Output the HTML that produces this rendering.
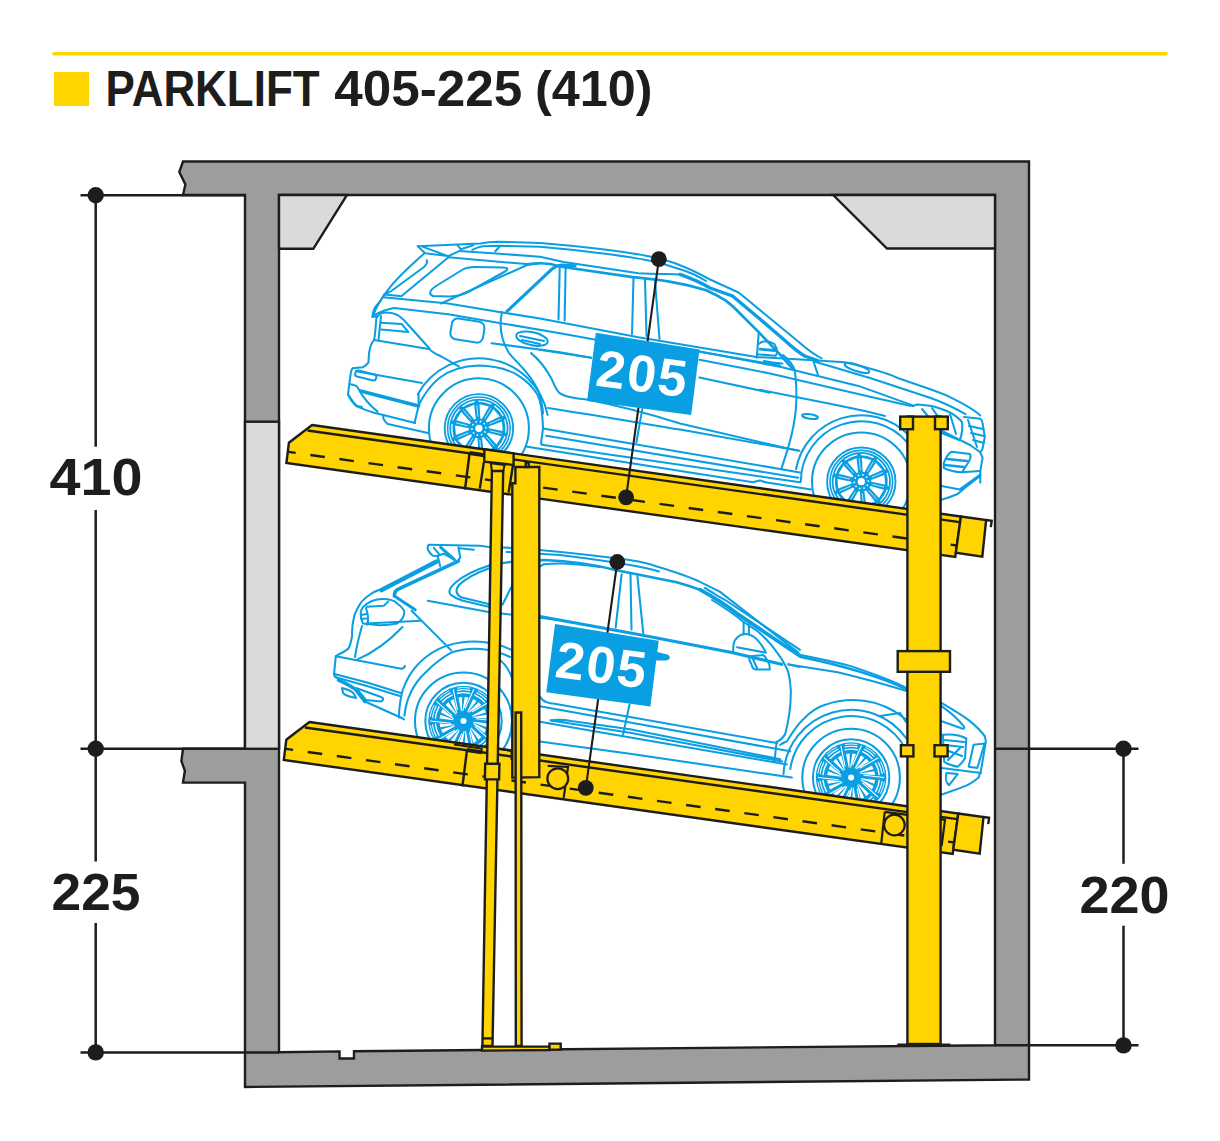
<!DOCTYPE html>
<html><head><meta charset="utf-8">
<style>
html,body{margin:0;padding:0;background:#fff;}
body{width:1220px;height:1141px;overflow:hidden;position:relative;}
svg{position:absolute;left:0;top:0;}
text{font-family:"Liberation Sans",sans-serif;font-weight:bold;}
</style></head><body>
<svg width="1220" height="1141" viewBox="0 0 1220 1141">
<!-- header -->
<line x1="54" y1="53.8" x2="1166" y2="53.8" stroke="#ffd500" stroke-width="3.6" stroke-linecap="round"/>
<rect x="54" y="72" width="35" height="34" fill="#ffd500"/>
<g font-size="49.5" fill="#1d1d1b">
<text x="105.6" y="105.6" textLength="214" lengthAdjust="spacingAndGlyphs">PARKLIFT</text>
<text x="334.2" y="105.6" textLength="188" lengthAdjust="spacingAndGlyphs">405-225</text>
<text x="535" y="105.6" textLength="117.5" lengthAdjust="spacingAndGlyphs">(410)</text>
</g>

<!-- concrete -->
<g stroke="#1d1d1b" stroke-width="2.4" stroke-linejoin="miter">
<!-- top slab + walls -->
<path d="M183,161.5 L1029,161.5 L1029,1079.5 L245,1087 L245,782.6 L183,782.6 L184.9,770.8 L181.4,761 L183,748.8 L245,748.8 L245,195 L183,195 L185.4,184.4 L179.3,172 Z" fill="#9d9d9c"/>
<!-- interior white -->
<path d="M279,195 L995,195 L995,1045.2 L354,1051.2 L354,1058.5 L339.5,1058.5 L339.5,1051.4 L279,1052.3 Z" fill="#fff"/>
<!-- light grey parts -->
<rect x="245" y="421.7" width="34" height="327.1" fill="#dadada"/>
<path d="M279,195 L347,195 L313.3,248.8 L279,248.8 Z" fill="#dadada"/>
<path d="M833.2,195 L995,195 L995,248.5 L887,248.5 Z" fill="#dadada"/>
</g>

<!-- CARS -->
<g id="cars" fill="none" stroke="#0a9fe2" stroke-width="2.05" stroke-linejoin="round" stroke-linecap="round">
<!-- ===== UPPER CAR ===== -->
<g id="car1">
<!-- roof / spoiler -->
<path d="M417.8,246.3 L457.4,244.6 L480.3,243.5 C488,242 493,241.8 497.5,241.8 L540,242.9 C580,246 630,252 650,256.6 C665,260 675,263 680,265.2 C690,269 700,274 709,279 L739,292.8 L800,343 C808,350 815,355 821.6,358.4"/>
<path d="M472.3,249.8 C476,248 479,247 482.6,246.3 C490,245.8 495,245.8 501,245.8 L540,246.8 C590,251 640,258 660,263 C670,266 676,268 680,269.2 C690,272 698,276 706,281"/>
<path d="M417.8,246.3 L425.2,253.2 L448.2,256.1 M423,246.9 L448.2,256.1"/>
<path d="M457.4,245.2 L460.8,249.2 L473.4,245.2"/>
<path d="M495.2,251.5 L499.8,246.3"/>
<path d="M680,274.4 C690,278 700,282 710,288 L732.5,296 L758.7,318 L784.9,340.5 C792,347 798,352 804.6,356 L817.7,360.5" stroke-width="3.4"/>
<!-- window top lines -->
<path d="M448.2,256.1 L459.7,250.9 L540,256.7 L563.6,262 L638.4,273.3 C655,274 668,274 680,274.4 M448.2,257.2 L526.2,264.1 L540,263"/>
<path d="M527.6,264.8 C540,262 550,263 559.7,266.5 L634.4,277.3 C660,280 680,282 706.2,290.2 C715,294 720,297 725.9,300.7 C730,304 735,308 739,312.5 L758.7,332.1 C768,342 778,352 785,360 L792.8,368.9" stroke-width="2.7"/>
<!-- pillars -->
<path d="M507,311.4 L551.6,269.4 C555,266.5 558,265.5 562,265 L575,265.8" stroke-width="3.2"/>
<path d="M559.7,268.4 L558.5,319.6 M565.6,268.4 L564.6,320.6"/>
<path d="M633.5,278 L632,334 M645,279.5 L646.5,336 M655,281 L659.5,339"/>
<path d="M441,303.5 L527.6,264.8"/>
<path d="M448.2,257.5 L401.3,296.3"/>
<!-- quarter glass -->
<path d="M433,296 C428,294 430,290 436,286 L462,270 C466,267.5 470,267 475,267 L503,267.5 C508,267.5 509,269 505,271.5 L470,291 C464,294.5 458,296.3 450,296.5 Z"/>
<!-- hatch -->
<path d="M424.8,253 C410,266 395,280 388,290 C380,300 376,307 373,316"/>
<path d="M426.6,260.2 C428,262 427,264 424,267 L392,290.5 C389,292.5 387,293.5 384,294.5 L400,296"/>
<!-- belt line -->
<path d="M383.3,297.2 L448.2,303.5 L502.3,312.5 L540,318.5 L638.4,337.3 L756.4,357 L813.1,360.3"/>
<path d="M813.1,360.3 L844.6,362.3 C870,368 885,372 897.7,378 C920,386 935,390 946.9,395.7 C960,402 972,408 980.3,415.4"/>
<path d="M814.3,361.6 L870,378 L930,397.7 C945,403 955,408 965.5,414.2"/>
<path d="M813.1,360.3 L818,375"/>
<ellipse cx="857" cy="368" rx="13" ry="3.2" transform="rotate(18 857 368)"/>
<!-- mirror -->
<path d="M758.7,333.4 L756.7,357.7 M758.7,344 C761,342 763,341.3 765.2,341.3 C769,341.3 772,342.5 774.4,344 C776,346.5 777,349 777,351.8 C777,353.5 776.5,354.8 775.7,355.7 L758.7,354.4 M763.9,361 C770,362.5 776,363.2 782.3,363.6"/>
<path d="M760,349.2 L774.4,350.5" stroke-width="2.8"/>
<!-- shoulder / body lines -->
<path d="M372.5,316 C380,312 386,309 394.1,308 L448.2,314.3 L502.3,323.4 L560,333.3 L600,340.5 L697.4,351.1 L780,366.8 L858.4,385.9 L913.5,405.6"/>
<path d="M699.4,351.8 L780,365.6"/>
<path d="M760,389.8 L838.7,405.6 C860,410 875,413 885,416"/>
<path d="M699.4,377.4 L770,392.7"/>
<path d="M374.2,339.9 L428.8,349"/>
<path d="M491.5,343.2 L560,352.2 L591,357.7"/>
<path d="M540,349.8 L591.2,357.7"/>
<path d="M699.4,359.7 L770,373.4 L870,396.8 L911,406"/>
<!-- fuel door -->
<rect x="451" y="320" width="33" height="21" rx="6" transform="rotate(9 467 330)"/>
<!-- tail light -->
<path d="M377.6,316 C380,313.5 383,312.5 385.6,312.5 C391,312.5 396,314 399.2,316 C403,319 406,322 408.3,325 L428.8,347.8 C430,350 431.5,351.5 433.4,352.4 C436,354 438,355 440,355.8"/>
<path d="M381,322.8 L401.5,323.9 L408.3,331.9 L381,329.6"/>
<!-- rear body outline -->
<path d="M381,300 C378,304 375,307 374.2,309.1 C373,312 372.5,315 372.5,317.1 L377.6,316 L376.4,318.2 C375.5,328 375,335 374.2,339.9 C372,342 371,344 370.8,345.6 C369.5,350 369,352 369,354.7 C368.7,358 368.5,360 368.5,362.6 C366,365 364.5,366.5 362.8,367.2 L352.5,368.3 C351.5,370 351,371 350.8,372.9 L349.1,385.4 L348,394.5 C350,399 353,403 356,405.9 C362,409 368,411 374.2,412.8 L383.3,415 L415.2,423"/>
<path d="M381,316 L378.5,340"/>
<rect x="355" y="372.5" width="21.5" height="6" rx="2.5" transform="rotate(14 365.7 375.5)"/>
<path d="M356,371.2 L422,383.1"/>
<path d="M360.5,391.1 L418.6,405.9" stroke-width="3.6"/>
<path d="M350.3,384.3 C354,385 356,385.5 357.1,386.6 C360,392 365,402 377.6,411.6 M348,394.5 C351,399 354,404 357.1,405.9 L362,407"/>
<path d="M418.6,393.4 L418.6,406 L414.5,423"/>
<path d="M383.3,415 L383.3,418.4 C384.5,421 386,423 387.8,424.1 L428,433"/>
<!-- rear door curve -->
<path d="M502,312 C499,325 500,338 508.9,353.1 C515,360 520,365 524.6,370.2 C531,378 536,385 539,392.5 C541,400 543,407 543,413.4"/>
<path d="M531.1,353.1 C542,362 548,372 551.8,379.3 C555,387 557,391 559.7,393.1 C565,397 575,398.5 587.2,399.5 C620,406 650,414 680,423.4 L785.5,448"/>
<path d="M440,355.8 C448,360 453,363 459,366.6"/>
<path d="M548,408 C600,416 640,423 680,429.6 L797.8,450.4"/>
<path d="M543,428.5 L800,472.4 M546.2,435.7 L798.2,477.8 M543,428.5 L541,443 C541.2,444.5 542,445 543.6,444.9 L800,482.3 M525.9,446.6 L690,472.4 L753.1,482.3 C756,481.5 758,480.5 760.3,480.5 C763,481.5 765,482.3 767,482.5 L811,489.5"/>
<path d="M636.4,442.3 L642.3,408.9"/>
<!-- door handle -->
<ellipse cx="532" cy="338.7" rx="16" ry="6.5" transform="rotate(12 532 338.7)"/>
<path d="M520,336 L544,341 M522,340 L540,344"/>
<!-- rear wheel arch & wheel -->
<path d="M417.7,394.4 A70,70 0 0 1 547.6,414.9"/>
<path d="M418.4,405.6 C425,392 432,384 439.3,378 C450,370 465,366 478.7,365.6 C495,366 508,369 518,375.4 C527,381 533,387 537.7,395.1 C541,402 542.5,412 543,428.5"/>
<circle cx="478.9" cy="428.3" r="50"/>
<g transform="translate(478.9,428.3)">
<circle r="34.2" stroke-width="1.9"/>
<circle r="31.3" stroke-width="1.6"/>
<circle r="29.6" fill="#0a9fe2" stroke="none"/>
<path fill="#fff" stroke="none" d="M1.4,-9.9 L0.6,-24.0 L10.0,-21.8 L3.1,-9.5Z M6.9,-7.2 L14.6,-19.0 L20.9,-11.8 L8.1,-5.9Z M9.8,-1.7 L23.0,-6.8 L23.8,2.7 L10.0,0.0Z M9.0,4.4 L22.6,8.0 L17.7,16.2 L8.1,5.9Z M4.7,8.8 L13.6,19.8 L4.8,23.5 L3.1,9.5Z M-1.4,9.9 L-0.6,24.0 L-10.0,21.8 L-3.1,9.5Z M-6.9,7.2 L-14.6,19.0 L-20.9,11.8 L-8.1,5.9Z M-9.8,1.7 L-23.0,6.8 L-23.8,-2.7 L-10.0,0.0Z M-9.0,-4.4 L-22.6,-8.0 L-17.7,-16.2 L-8.1,-5.9Z M-4.7,-8.8 L-13.6,-19.8 L-4.8,-23.5 L-3.1,-9.5Z"/>
<path stroke="#fff" stroke-width="1.3" d="M0.0,-27.2 A27.2,27.2 0 0 1 11.9,-24.4 M16.0,-22.0 A27.2,27.2 0 0 1 24.0,-12.8 M25.9,-8.4 A27.2,27.2 0 0 1 26.9,3.8 M25.9,8.4 A27.2,27.2 0 0 1 19.6,18.9 M16.0,22.0 A27.2,27.2 0 0 1 4.7,26.8 M0.0,27.2 A27.2,27.2 0 0 1 -11.9,24.4 M-16.0,22.0 A27.2,27.2 0 0 1 -24.0,12.8 M-25.9,8.4 A27.2,27.2 0 0 1 -26.9,-3.8 M-25.9,-8.4 A27.2,27.2 0 0 1 -19.6,-18.9 M-16.0,-22.0 A27.2,27.2 0 0 1 -4.7,-26.8"/>
<path stroke="#fff" stroke-width="0.7" d="M-1.0,-12.0 L-2.0,-22.9 M6.2,-10.3 L11.8,-19.7 M11.0,-4.7 L21.2,-9.0 M11.7,2.7 L22.4,5.2 M7.9,9.1 L15.1,17.4 M1.0,12.0 L2.0,22.9 M-6.2,10.3 L-11.8,19.7 M-11.0,4.7 L-21.2,9.0 M-11.7,-2.7 L-22.4,-5.2 M-7.9,-9.1 L-15.1,-17.4"/>
<circle cx="1.6" cy="-6.8" r="0.9" fill="#fff" stroke="none"/><circle cx="5.3" cy="-4.6" r="0.9" fill="#fff" stroke="none"/><circle cx="7.0" cy="-0.6" r="0.9" fill="#fff" stroke="none"/><circle cx="6.0" cy="3.6" r="0.9" fill="#fff" stroke="none"/><circle cx="2.7" cy="6.4" r="0.9" fill="#fff" stroke="none"/><circle cx="-1.6" cy="6.8" r="0.9" fill="#fff" stroke="none"/><circle cx="-5.3" cy="4.6" r="0.9" fill="#fff" stroke="none"/><circle cx="-7.0" cy="0.6" r="0.9" fill="#fff" stroke="none"/><circle cx="-6.0" cy="-3.6" r="0.9" fill="#fff" stroke="none"/><circle cx="-2.7" cy="-6.4" r="0.9" fill="#fff" stroke="none"/>
<circle r="3.6" fill="#fff" stroke="none"/>
</g>
<!-- front door edge -->
<path d="M783.1,355 C789,360 793,365 794.6,369.8 C796,378 796.6,388 796.4,399.5 C796,412 794,425 791.5,434.9 C788,450 784,460 781.6,468.4"/>
<ellipse cx="810" cy="416.5" rx="8" ry="2.2" transform="rotate(8 810 416.5)"/>
<path d="M760,442.8 L799.3,450.7"/>
<!-- front wheel arch & wheel -->
<path d="M796.0,469.0 A66.5,66.5 0 0 1 908.3,434.7"/>
<path d="M800.8,481.7 A60.5,60.5 0 0 1 907.6,442.8"/>
<circle cx="861.3" cy="481.7" r="49.3"/>
<g transform="translate(861.3,481.7)">
<circle r="34.2" stroke-width="1.9"/>
<circle r="31.3" stroke-width="1.6"/>
<circle r="29.6" fill="#0a9fe2" stroke="none"/>
<path fill="#fff" stroke="none" d="M1.4,-9.9 L0.6,-24.0 L10.0,-21.8 L3.1,-9.5Z M6.9,-7.2 L14.6,-19.0 L20.9,-11.8 L8.1,-5.9Z M9.8,-1.7 L23.0,-6.8 L23.8,2.7 L10.0,0.0Z M9.0,4.4 L22.6,8.0 L17.7,16.2 L8.1,5.9Z M4.7,8.8 L13.6,19.8 L4.8,23.5 L3.1,9.5Z M-1.4,9.9 L-0.6,24.0 L-10.0,21.8 L-3.1,9.5Z M-6.9,7.2 L-14.6,19.0 L-20.9,11.8 L-8.1,5.9Z M-9.8,1.7 L-23.0,6.8 L-23.8,-2.7 L-10.0,0.0Z M-9.0,-4.4 L-22.6,-8.0 L-17.7,-16.2 L-8.1,-5.9Z M-4.7,-8.8 L-13.6,-19.8 L-4.8,-23.5 L-3.1,-9.5Z"/>
<path stroke="#fff" stroke-width="1.3" d="M0.0,-27.2 A27.2,27.2 0 0 1 11.9,-24.4 M16.0,-22.0 A27.2,27.2 0 0 1 24.0,-12.8 M25.9,-8.4 A27.2,27.2 0 0 1 26.9,3.8 M25.9,8.4 A27.2,27.2 0 0 1 19.6,18.9 M16.0,22.0 A27.2,27.2 0 0 1 4.7,26.8 M0.0,27.2 A27.2,27.2 0 0 1 -11.9,24.4 M-16.0,22.0 A27.2,27.2 0 0 1 -24.0,12.8 M-25.9,8.4 A27.2,27.2 0 0 1 -26.9,-3.8 M-25.9,-8.4 A27.2,27.2 0 0 1 -19.6,-18.9 M-16.0,-22.0 A27.2,27.2 0 0 1 -4.7,-26.8"/>
<path stroke="#fff" stroke-width="0.7" d="M-1.0,-12.0 L-2.0,-22.9 M6.2,-10.3 L11.8,-19.7 M11.0,-4.7 L21.2,-9.0 M11.7,2.7 L22.4,5.2 M7.9,9.1 L15.1,17.4 M1.0,12.0 L2.0,22.9 M-6.2,10.3 L-11.8,19.7 M-11.0,4.7 L-21.2,9.0 M-11.7,-2.7 L-22.4,-5.2 M-7.9,-9.1 L-15.1,-17.4"/>
<circle cx="1.6" cy="-6.8" r="0.9" fill="#fff" stroke="none"/><circle cx="5.3" cy="-4.6" r="0.9" fill="#fff" stroke="none"/><circle cx="7.0" cy="-0.6" r="0.9" fill="#fff" stroke="none"/><circle cx="6.0" cy="3.6" r="0.9" fill="#fff" stroke="none"/><circle cx="2.7" cy="6.4" r="0.9" fill="#fff" stroke="none"/><circle cx="-1.6" cy="6.8" r="0.9" fill="#fff" stroke="none"/><circle cx="-5.3" cy="4.6" r="0.9" fill="#fff" stroke="none"/><circle cx="-7.0" cy="0.6" r="0.9" fill="#fff" stroke="none"/><circle cx="-6.0" cy="-3.6" r="0.9" fill="#fff" stroke="none"/><circle cx="-2.7" cy="-6.4" r="0.9" fill="#fff" stroke="none"/>
<circle r="3.6" fill="#fff" stroke="none"/>
</g>
<!-- front end -->
<path d="M913,406.2 C915,405 916,404.5 917.6,404.5 C925,405 930,405.5 934.7,406.8 C942,409 948,411 952.9,414.2 C957,417 960,419 962,422.2 C963,428 962,434 959.8,440.4"/>
<path d="M940.4,430.1 C950,435 960,440 970,445 M941.5,433 L959.8,440.4"/>
<path d="M922,409 L936,426 M932,408 L946,428 M950,414 L956,434"/>
<path d="M964,417 L980.3,418.7 C982,420 982.6,421 982.6,423.3 L984.8,437 L982.6,448.4 L980.3,452.9 L982.6,457.5 L980.3,471.2 L980.3,482.6"/>
<path d="M968,420 L977,447 M970,445 L980,452"/>
<path d="M969,426 L983,429 M971,433 L984,436 M973,440 L984,443"/>
<path d="M943.8,463.2 C946,457 949,453 951.8,451.8 L970,454.1 C971,456 970,460 968,463 L962,472.3 C955,472 948,470 943.8,468 Z"/>
<path d="M947,459 L967,461 M945,465 L964,467" stroke-width="2.4"/>
<path d="M941.5,486 L959.8,489.4 L980.3,474.6 M941.5,499.7 C948,498 953,496 957.5,494 C965,488 972,482 980.3,476"/>
<path d="M962,472.3 L980,471"/>
</g>
<!-- ===== LOWER CAR ===== -->
<g id="car2">
<path d="M428.9,544.8 L480,545.8 L487.3,546.7 C520,548 560,551 617.7,558.6 C640,561 650,564 657,566.5 C675,572 690,577 700,581.8 L719.7,591.6 L798.4,652.6"/>
<path d="M459.8,548.2 L473.7,549.8 M506.7,551.9 C530,553 545,554 560,555.1 C600,560 640,566 659,571.4"/>
<path d="M488.6,565.8 C505,562 525,560 545,560 C570,561 600,566 617.7,570.4 L676.7,582.2 C690,586 700,589.7 700,589.7" stroke-width="2.6"/>
<path d="M700,589.7 C715,598 730,608 739.3,615.2 L800,656" stroke-width="3.8"/>
<path d="M705,588 C715,594 722,599 725.2,600 L800,649.8"/>
<path d="M544,564.2 C560,562.5 580,564 600,567"/>
<!-- rear -->
<path d="M428.9,544.8 C427.5,546 427.5,548 427.9,549.8 C429,552 431,554.5 432.8,555.7 L437.7,556.1 L440.3,566.5 M433.8,547.8 L438.7,553.7 M437.7,555.7 L443.6,553.7 L454.4,559.6 M458.4,547.3 L460.3,557.6 L457.4,561.1"/>
<path d="M440.7,547.3 L454.4,559.6" stroke-width="3"/>
<path d="M381.6,590.1 L436.7,561.6" stroke-width="4.5"/>
<path d="M394.4,596 C394,592 396,590 399.3,588.6 L458.4,561.1" stroke-width="3.5"/>
<path d="M384.5,588.2 C378,590 373,592 370.1,594.5 C365,598 361,602 359.3,605.3 C356,611 354,615 353.9,618 C352,625 352,630 352.1,636 C351,642 350,646 348.4,648.6 C344,652 340,654 337.6,655 L335.8,656.2 L334,674.3 C334,676 335,677 337.6,677.9"/>
<path d="M362.9,607.1 C368,602 375,599 382.7,599 C390,599 395,601 397.1,603.5 C402,607 404.4,610 404.4,612.5 C404,617 401,621 397.1,623.4 C390,625 385,625.2 379.1,625.2 L362.9,623.4 C360,617 360,611 362.9,607.1 Z"/>
<path d="M367.1,606.8 L383.9,605.8 L388.1,601.6 M361.5,615 L366,614 M361.5,619 L366,618.5 M366,608 C368,614 369,620 367.1,624.7"/>
<path d="M366.5,623.4 L420.6,620.7"/>
<path d="M394.4,596 L415.2,609.8" stroke-width="3"/>
<path d="M411.6,610.7 L451.2,650.4"/>
<path d="M402.5,627 C390,640 375,652 357.5,659.4"/>
<path d="M362,626 C358,640 356,650 355,657"/>
<path d="M335.8,656.2 L400,668.5 C402,669 404,668 405,666"/>
<path d="M334.5,674.1 L367.1,682.5 L400.7,693 M335.5,677.3 L367,686 L400.7,696.2"/>
<path d="M338.5,680 C345,683 352,686 356,690 C359,694 362,698 365,701.5" stroke-width="3.6"/>
<path d="M342,688 C346,689 352,691 354,694 L356,698 C350,697 345,695 343,693 Z"/>
<path d="M356,688 L381,697 C384,698 384,700 381,701.5 L366,700 Z"/>
<path d="M365,701.5 L400.7,717.5 L404,719.4"/>
<!-- belt & windows -->
<path d="M427.8,600.8 L488.6,612.1 L560,620"/>
<path d="M540,616.5 L640,634.8 L731.8,652.5 L781.6,664.3" stroke-width="3.2"/>
<path d="M788.2,664.3 L800,666.9"/>
<path d="M488.6,565.8 C475,570 462,577 455,583 C449,588 448,593 451.3,595.1 C455,598 458,599 462,600.4 L488.6,606.8"/>
<path d="M488.6,568.5 C476,573 465,579 459,585 C455,590 456,594 460.9,597.2 L488.6,604"/>
<path d="M502.5,604.7 L511,587.6 L530,572 L544,564.2"/>
<path d="M621.6,574.3 L615.7,627.5 M630.5,574.3 L631.5,629.4 M637.4,576.3 L643.3,633.4"/>
<!-- mirror -->
<path d="M733.1,652.5 C733,645 734,641 735.7,639.3 C738,636 741,634.5 744.9,634.1 C749,634 752,635.5 755.4,638 C760,642 763,647 765.9,652.5 M737,647.2 L764.6,652.5"/>
<path d="M748.9,656.4 C749,660 750,662 751.5,664.3 C752,667 753,669 755.4,669.5 L769.8,669.5 C770,666 769,663 767.2,660.3 C766,658 765,656 763.3,655.1 Z M752,657 L757,668"/>
<path d="M743.6,622 L743.6,634.5 M748.9,624 L748.9,634"/>
<path d="M655,652.5 L667,655.5 C670,657 669,659 666,659.5 L657,659.5 Z" fill="#0a9fe2"/>
<!-- front door edge -->
<path d="M712,600 C725,608 735,615 742.3,621 C748,625 753,628 758,631.5 C764,637 768,641 771.1,644.6 C776,651 779,655 781.6,659 C785,665 787,668 788.2,672.1 C790,679 790.5,684 790.8,690 C791,705 789,720 785.1,734.4 C782,739 779,741 776.6,741.9"/>
<path d="M535,690 C537,694 538,695 539.8,696.4 C542,700 544,701.5 546.4,702.1 C549,703 551,703.5 554.6,703.8 L630,716.9 L777,743.1"/>
<path d="M539.8,706.2 L630,722.6 L790.2,751.3"/>
<path d="M550.5,720.2 C560,719.5 566,720 571,721 L630,729.2 L780.3,759.3 M550.5,720.4 L630,732.8 L782,761.5"/>
<path d="M539.8,721.8 L600,732.3 L786.9,764.4 M539.8,741.5 L630,753.8 L791.8,777.5"/>
<path d="M629.5,704.6 L623.1,734.4 M776.6,741.9 L774.4,762.1"/>
<!-- hood & front -->
<path d="M798.4,654.6 L818,658.5 C835,662 850,665 857.4,668.4 C880,676 895,682 906.6,688 C920,694 932,698 940.5,702.3 C952,709 962,715 968.7,720.1 C976,726 981,731 984.7,736.1"/>
<path d="M788.5,664.4 L837.7,672.3 C870,680 890,686 906.6,691"/>
<path d="M801,657 C850,667 880,677 906.6,689" stroke-width="2.8"/>
<path d="M984.7,736.1 L985.9,741 L981,770.4 L978.5,777.8 C972,783 967,786 961.3,787.6 L940.5,795"/>
<path d="M940.5,705.4 C950,712 958,719 963.8,726.3 C965,728 964,729 962,728.5 L941.7,721.3"/>
<path d="M942.9,734.8 C950,734 960,735 966.3,738.5 L965,758.2 C962,763 960,765 957.7,766.7 C952,766 948,764 944.2,761.8 Z"/>
<path d="M945,740 L964,742 M945,745 L963,747 M946,750 L962,756 M948,760 L960,748" stroke-width="2.2"/>
<path d="M973.6,744.7 L984.7,743.4 L977.3,768 L968.7,766.7 Z"/>
<path d="M946.6,772.9 L957.7,774.1 L949.1,785.2 C946,783 945,778 946.6,772.9 Z"/>
<path d="M941.7,768 L981,772.9"/>
<!-- arches -->
<path d="M398.9,717.5 C399,705 401,697 402.5,690.5 C407,678 412,670 418.8,663.4 C428,654 437,649 447.6,645.4 C470,639 492,641 512,650"/>
<path d="M404.4,715.7 C406,700 412,685 426,672 C435,663 443,657 451.2,652.6 C470,646 492,648 510,657"/>
<path d="M500,660 C506,665 510,672 512,678"/>
<circle cx="463.5" cy="721" r="48.5"/>
<g transform="translate(463.5,721)">
<circle r="38.2" stroke-width="2"/>
<circle r="35.3" fill="#0a9fe2" stroke="none"/>
<path fill="#fff" stroke="none" d="M3.7,-9.3 L9.8,-21.9 L13.1,-20.1 L4.5,-8.9Z M4.9,-8.7 L15.1,-18.7 L17.8,-16.1 L5.6,-8.3Z M8.5,-5.3 L20.8,-12.0 L22.4,-8.6 L8.9,-4.6Z M9.1,-4.1 L23.2,-6.2 L23.9,-2.5 L9.4,-3.4Z M10.0,0.7 L23.9,2.5 L23.2,6.2 L9.9,1.5Z M9.8,2.0 L22.4,8.6 L20.8,12.0 L9.6,2.8Z M7.7,6.4 L17.8,16.1 L15.1,18.7 L7.1,7.0Z M6.8,7.4 L13.1,20.1 L9.8,21.9 L6.2,7.9Z M2.4,9.7 L5.0,23.5 L1.3,24.0 L1.7,9.9Z M1.1,9.9 L-1.3,24.0 L-5.0,23.5 L0.3,10.0Z M-3.7,9.3 L-9.8,21.9 L-13.1,20.1 L-4.5,8.9Z M-4.9,8.7 L-15.1,18.7 L-17.8,16.1 L-5.6,8.3Z M-8.5,5.3 L-20.8,12.0 L-22.4,8.6 L-8.9,4.6Z M-9.1,4.1 L-23.2,6.2 L-23.9,2.5 L-9.4,3.4Z M-10.0,-0.7 L-23.9,-2.5 L-23.2,-6.2 L-9.9,-1.5Z M-9.8,-2.0 L-22.4,-8.6 L-20.8,-12.0 L-9.6,-2.8Z M-7.7,-6.4 L-17.8,-16.1 L-15.1,-18.7 L-7.1,-7.0Z M-6.8,-7.4 L-13.1,-20.1 L-9.8,-21.9 L-6.2,-7.9Z M-2.4,-9.7 L-5.0,-23.5 L-1.3,-24.0 L-1.7,-9.9Z M-1.1,-9.9 L1.3,-24.0 L5.0,-23.5 L-0.3,-10.0Z"/>
<path stroke="#fff" stroke-width="1.4" d="M11.5,-25.9 A28.3,28.3 0 0 1 21.0,-18.9"/><path stroke="#fff" stroke-width="1.1" d="M13.2,-28.3 A31.2,31.2 0 0 1 22.8,-21.3"/><path stroke="#fff" stroke-width="0.9" d="M14.7,-30.1 A33.5,33.5 0 0 1 24.1,-23.3"/><path stroke="#fff" stroke-width="1.4" d="M24.5,-14.1 A28.3,28.3 0 0 1 28.1,-3.0"/><path stroke="#fff" stroke-width="1.1" d="M27.3,-15.1 A31.2,31.2 0 0 1 31.0,-3.8"/><path stroke="#fff" stroke-width="0.9" d="M29.6,-15.7 A33.5,33.5 0 0 1 33.2,-4.7"/><path stroke="#fff" stroke-width="1.4" d="M28.1,3.0 A28.3,28.3 0 0 1 24.5,14.1"/><path stroke="#fff" stroke-width="1.1" d="M31.0,3.8 A31.2,31.2 0 0 1 27.3,15.1"/><path stroke="#fff" stroke-width="0.9" d="M33.2,4.7 A33.5,33.5 0 0 1 29.6,15.7"/><path stroke="#fff" stroke-width="1.4" d="M21.0,18.9 A28.3,28.3 0 0 1 11.5,25.9"/><path stroke="#fff" stroke-width="1.1" d="M22.8,21.3 A31.2,31.2 0 0 1 13.2,28.3"/><path stroke="#fff" stroke-width="0.9" d="M24.1,23.3 A33.5,33.5 0 0 1 14.7,30.1"/><path stroke="#fff" stroke-width="1.4" d="M5.9,27.7 A28.3,28.3 0 0 1 -5.9,27.7"/><path stroke="#fff" stroke-width="1.1" d="M6.0,30.6 A31.2,31.2 0 0 1 -6.0,30.6"/><path stroke="#fff" stroke-width="0.9" d="M5.8,33.0 A33.5,33.5 0 0 1 -5.8,33.0"/><path stroke="#fff" stroke-width="1.4" d="M-11.5,25.9 A28.3,28.3 0 0 1 -21.0,18.9"/><path stroke="#fff" stroke-width="1.1" d="M-13.2,28.3 A31.2,31.2 0 0 1 -22.8,21.3"/><path stroke="#fff" stroke-width="0.9" d="M-14.7,30.1 A33.5,33.5 0 0 1 -24.1,23.3"/><path stroke="#fff" stroke-width="1.4" d="M-24.5,14.1 A28.3,28.3 0 0 1 -28.1,3.0"/><path stroke="#fff" stroke-width="1.1" d="M-27.3,15.1 A31.2,31.2 0 0 1 -31.0,3.8"/><path stroke="#fff" stroke-width="0.9" d="M-29.6,15.7 A33.5,33.5 0 0 1 -33.2,4.7"/><path stroke="#fff" stroke-width="1.4" d="M-28.1,-3.0 A28.3,28.3 0 0 1 -24.5,-14.2"/><path stroke="#fff" stroke-width="1.1" d="M-31.0,-3.8 A31.2,31.2 0 0 1 -27.3,-15.1"/><path stroke="#fff" stroke-width="0.9" d="M-33.2,-4.7 A33.5,33.5 0 0 1 -29.6,-15.7"/><path stroke="#fff" stroke-width="1.4" d="M-21.0,-18.9 A28.3,28.3 0 0 1 -11.5,-25.9"/><path stroke="#fff" stroke-width="1.1" d="M-22.8,-21.3 A31.2,31.2 0 0 1 -13.2,-28.3"/><path stroke="#fff" stroke-width="0.9" d="M-24.1,-23.3 A33.5,33.5 0 0 1 -14.7,-30.1"/><path stroke="#fff" stroke-width="1.4" d="M-5.9,-27.7 A28.3,28.3 0 0 1 5.9,-27.7"/><path stroke="#fff" stroke-width="1.1" d="M-6.0,-30.6 A31.2,31.2 0 0 1 6.0,-30.6"/><path stroke="#fff" stroke-width="0.9" d="M-5.8,-33.0 A33.5,33.5 0 0 1 5.8,-33.0"/>
<path stroke="#fff" stroke-width="1.1" d="M1.8,-12.9 L10.2,-31.4 M9.0,-9.4 L26.7,-19.4 M12.8,-2.3 L33.0,0.0 M11.7,5.7 L26.7,19.4 M6.1,11.5 L10.2,31.4 M-1.8,12.9 L-10.2,31.4 M-9.0,9.4 L-26.7,19.4 M-12.8,2.3 L-33.0,0.0 M-11.7,-5.7 L-26.7,-19.4 M-6.1,-11.5 L-10.2,-31.4"/>
<circle r="3" fill="#fff" stroke="none"/>
</g>
<path d="M780,745 C783,743 785,742 786.9,741.3 C792,733 797,725 803,719.5 C811,711 818,707 825.9,704.6 C835,701 845,700 853.4,700 C868,700 882,704 894.8,711.5 L906.2,719.5"/>
<path d="M783.5,774.0 A67.7,67.7 0 0 1 906.6,738.7"/>
<path d="M790.3,769.0 A61.4,61.4 0 0 1 905.8,749.6"/>
<path d="M880,716 L900,713 L906,722"/>
<circle cx="851.1" cy="777.5" r="48.8"/>
<g transform="translate(851.1,777.5)">
<circle r="38.2" stroke-width="2"/>
<circle r="35.3" fill="#0a9fe2" stroke="none"/>
<path fill="#fff" stroke="none" d="M3.7,-9.3 L9.8,-21.9 L13.1,-20.1 L4.5,-8.9Z M4.9,-8.7 L15.1,-18.7 L17.8,-16.1 L5.6,-8.3Z M8.5,-5.3 L20.8,-12.0 L22.4,-8.6 L8.9,-4.6Z M9.1,-4.1 L23.2,-6.2 L23.9,-2.5 L9.4,-3.4Z M10.0,0.7 L23.9,2.5 L23.2,6.2 L9.9,1.5Z M9.8,2.0 L22.4,8.6 L20.8,12.0 L9.6,2.8Z M7.7,6.4 L17.8,16.1 L15.1,18.7 L7.1,7.0Z M6.8,7.4 L13.1,20.1 L9.8,21.9 L6.2,7.9Z M2.4,9.7 L5.0,23.5 L1.3,24.0 L1.7,9.9Z M1.1,9.9 L-1.3,24.0 L-5.0,23.5 L0.3,10.0Z M-3.7,9.3 L-9.8,21.9 L-13.1,20.1 L-4.5,8.9Z M-4.9,8.7 L-15.1,18.7 L-17.8,16.1 L-5.6,8.3Z M-8.5,5.3 L-20.8,12.0 L-22.4,8.6 L-8.9,4.6Z M-9.1,4.1 L-23.2,6.2 L-23.9,2.5 L-9.4,3.4Z M-10.0,-0.7 L-23.9,-2.5 L-23.2,-6.2 L-9.9,-1.5Z M-9.8,-2.0 L-22.4,-8.6 L-20.8,-12.0 L-9.6,-2.8Z M-7.7,-6.4 L-17.8,-16.1 L-15.1,-18.7 L-7.1,-7.0Z M-6.8,-7.4 L-13.1,-20.1 L-9.8,-21.9 L-6.2,-7.9Z M-2.4,-9.7 L-5.0,-23.5 L-1.3,-24.0 L-1.7,-9.9Z M-1.1,-9.9 L1.3,-24.0 L5.0,-23.5 L-0.3,-10.0Z"/>
<path stroke="#fff" stroke-width="1.4" d="M11.5,-25.9 A28.3,28.3 0 0 1 21.0,-18.9"/><path stroke="#fff" stroke-width="1.1" d="M13.2,-28.3 A31.2,31.2 0 0 1 22.8,-21.3"/><path stroke="#fff" stroke-width="0.9" d="M14.7,-30.1 A33.5,33.5 0 0 1 24.1,-23.3"/><path stroke="#fff" stroke-width="1.4" d="M24.5,-14.1 A28.3,28.3 0 0 1 28.1,-3.0"/><path stroke="#fff" stroke-width="1.1" d="M27.3,-15.1 A31.2,31.2 0 0 1 31.0,-3.8"/><path stroke="#fff" stroke-width="0.9" d="M29.6,-15.7 A33.5,33.5 0 0 1 33.2,-4.7"/><path stroke="#fff" stroke-width="1.4" d="M28.1,3.0 A28.3,28.3 0 0 1 24.5,14.1"/><path stroke="#fff" stroke-width="1.1" d="M31.0,3.8 A31.2,31.2 0 0 1 27.3,15.1"/><path stroke="#fff" stroke-width="0.9" d="M33.2,4.7 A33.5,33.5 0 0 1 29.6,15.7"/><path stroke="#fff" stroke-width="1.4" d="M21.0,18.9 A28.3,28.3 0 0 1 11.5,25.9"/><path stroke="#fff" stroke-width="1.1" d="M22.8,21.3 A31.2,31.2 0 0 1 13.2,28.3"/><path stroke="#fff" stroke-width="0.9" d="M24.1,23.3 A33.5,33.5 0 0 1 14.7,30.1"/><path stroke="#fff" stroke-width="1.4" d="M5.9,27.7 A28.3,28.3 0 0 1 -5.9,27.7"/><path stroke="#fff" stroke-width="1.1" d="M6.0,30.6 A31.2,31.2 0 0 1 -6.0,30.6"/><path stroke="#fff" stroke-width="0.9" d="M5.8,33.0 A33.5,33.5 0 0 1 -5.8,33.0"/><path stroke="#fff" stroke-width="1.4" d="M-11.5,25.9 A28.3,28.3 0 0 1 -21.0,18.9"/><path stroke="#fff" stroke-width="1.1" d="M-13.2,28.3 A31.2,31.2 0 0 1 -22.8,21.3"/><path stroke="#fff" stroke-width="0.9" d="M-14.7,30.1 A33.5,33.5 0 0 1 -24.1,23.3"/><path stroke="#fff" stroke-width="1.4" d="M-24.5,14.1 A28.3,28.3 0 0 1 -28.1,3.0"/><path stroke="#fff" stroke-width="1.1" d="M-27.3,15.1 A31.2,31.2 0 0 1 -31.0,3.8"/><path stroke="#fff" stroke-width="0.9" d="M-29.6,15.7 A33.5,33.5 0 0 1 -33.2,4.7"/><path stroke="#fff" stroke-width="1.4" d="M-28.1,-3.0 A28.3,28.3 0 0 1 -24.5,-14.2"/><path stroke="#fff" stroke-width="1.1" d="M-31.0,-3.8 A31.2,31.2 0 0 1 -27.3,-15.1"/><path stroke="#fff" stroke-width="0.9" d="M-33.2,-4.7 A33.5,33.5 0 0 1 -29.6,-15.7"/><path stroke="#fff" stroke-width="1.4" d="M-21.0,-18.9 A28.3,28.3 0 0 1 -11.5,-25.9"/><path stroke="#fff" stroke-width="1.1" d="M-22.8,-21.3 A31.2,31.2 0 0 1 -13.2,-28.3"/><path stroke="#fff" stroke-width="0.9" d="M-24.1,-23.3 A33.5,33.5 0 0 1 -14.7,-30.1"/><path stroke="#fff" stroke-width="1.4" d="M-5.9,-27.7 A28.3,28.3 0 0 1 5.9,-27.7"/><path stroke="#fff" stroke-width="1.1" d="M-6.0,-30.6 A31.2,31.2 0 0 1 6.0,-30.6"/><path stroke="#fff" stroke-width="0.9" d="M-5.8,-33.0 A33.5,33.5 0 0 1 5.8,-33.0"/>
<path stroke="#fff" stroke-width="1.1" d="M1.8,-12.9 L10.2,-31.4 M9.0,-9.4 L26.7,-19.4 M12.8,-2.3 L33.0,0.0 M11.7,5.7 L26.7,19.4 M6.1,11.5 L10.2,31.4 M-1.8,12.9 L-10.2,31.4 M-9.0,9.4 L-26.7,19.4 M-12.8,2.3 L-33.0,0.0 M-11.7,-5.7 L-26.7,-19.4 M-6.1,-11.5 L-10.2,-31.4"/>
<circle r="3" fill="#fff" stroke="none"/>
</g>
</g>
</g>
</g>

<g stroke="#1d1d1b" stroke-width="2.4" stroke-linejoin="miter">
<path d="M312,425 L960.9,516.5 L955.3,557.0 L286.4,463 L288.9,442.7 Z" fill="#ffd400"/>
<path d="M960.9,516.5 L986.1,520.0 L982.3,556.6 L955.8,552.8 Z" fill="#ffd400"/>
<path d="M986,520.0 L991.7,520.8 L990.8,527.2" fill="none"/>
<path d="M307.5,430.5 L959.7,522.1" fill="none"/>
<path d="M288.4,451.9 L957,545.5" fill="none" stroke-dasharray="14.64 14.75" stroke-dashoffset="7.27"/>
<path d="M469.5,453.5 L465,489.5" fill="none"/>
<path d="M469.5,453 L484.3,455.2" fill="none" stroke-width="4"/>
</g>
<g stroke="#1d1d1b" stroke-width="2.4" stroke-linejoin="miter" transform="translate(-2.6,297)">
<path d="M312,425 L960.9,516.5 L955.3,557.0 L286.4,463 L288.9,442.7 Z" fill="#ffd400"/>
<path d="M960.9,516.5 L986.1,520.0 L982.3,556.6 L955.8,552.8 Z" fill="#ffd400"/>
<path d="M986,520.0 L991.7,520.8 L990.8,527.2" fill="none"/>
<path d="M307.5,430.5 L959.7,522.1" fill="none"/>
<path d="M288.4,451.9 L957,545.5" fill="none" stroke-dasharray="14.64 14.75" stroke-dashoffset="7.27"/>
<path d="M469.5,453.5 L465,489.5" fill="none"/>
<path d="M469.5,453 L484.3,455.2" fill="none" stroke-width="4"/>
</g>
<g stroke="#1d1d1b" stroke-width="2.4">
<path d="M484.3,449.3 L513.6,453.4 L513.6,465 L484.3,461.6 Z" fill="#ffd400"/>
<path d="M483.8,462.5 L479.8,488.6 M513.1,464.5 L508.6,492.6" fill="none"/>
<path d="M490.8,463.2 L504.6,465 L503.2,471 L491.9,471 Z" fill="#ffd400" stroke-width="2"/>
<path d="M454,744.5 L481.6,748.5 L481.6,752.5" fill="none" stroke-width="2"/>
<path d="M500,749 L511.5,751 L511.5,760" fill="none" stroke-width="2"/>
</g>

<!-- lower platform extras -->
<g stroke="#1d1d1b" stroke-width="2.2" fill="none">
<path d="M547.7,765.9 L568,767 L563.7,797.9"/>
<circle cx="557.8" cy="778.7" r="10.4" fill="#ffd400"/>
<path d="M884.7,811.8 L945,819.8 L941.6,846 M884.7,811.8 L881.2,843.9"/>
<circle cx="894.4" cy="825" r="10.3" fill="#ffd400"/>
</g>

<!-- posts -->
<g stroke="#1d1d1b" stroke-width="2.4" fill="#ffd400" stroke-linejoin="miter">
<!-- left pair -->
<path d="M515.4,467 L539.3,467 L539.3,777.1 L512.3,777.6 L512.3,483.2 L515.4,483.2 Z"/>
<rect x="525.7" y="462.5" width="3" height="4.5"/>
<path d="M515.6,712.5 L521.2,712.5 L521.6,1046 L515.8,1046 Z"/>
<path d="M491.9,471 L503.2,471 L492.5,1046 L482.4,1046 Z"/>
<path d="M485.2,763.8 L499.4,763.8 L499.1,779.4 L484.9,779.4 Z"/>
<path d="M482.8,1038.4 L492.6,1038.4"/>
<path d="M482,1046.6 L549.5,1046.6 L549.5,1050 L482,1050.6 Z"/>
<path d="M549.5,1043.6 L560.7,1043.6 L560.7,1049.5 L549.5,1049.6 Z"/>
<!-- right post -->
<rect x="907.4" y="416.6" width="33.2" height="627.4"/>
<rect x="900.2" y="416.6" width="12.8" height="12.6"/>
<rect x="935" y="416.6" width="12.8" height="12.6"/>
<rect x="897.7" y="651.1" width="52.3" height="20.7"/>
<rect x="900.9" y="745.2" width="12.5" height="11.2"/>
<rect x="934.5" y="745.2" width="13.1" height="11.2"/>
<path d="M897.3,1045 L950.4,1045" stroke-width="3"/>
</g>

<!-- labels -->
<g stroke="#1d1d1b" stroke-width="2.1">
<line x1="658.9" y1="259.2" x2="626.1" y2="497.3"/>
<line x1="617.3" y1="562" x2="585.8" y2="787.8"/>
</g>
<g fill="#1d1d1b">
<circle cx="658.9" cy="259.2" r="7.9"/>
<circle cx="626.1" cy="497.3" r="7.9"/>
<circle cx="617.3" cy="562" r="7.9"/>
<circle cx="585.8" cy="787.8" r="7.9"/>
</g>
<polygon points="595.8,332.8 699.5,349.5 691.2,415.1 587.1,400.9" fill="#0a9fe3"/>
<polygon points="555,624.1 658.7,640.8 650.4,706.4 546.3,692.2" fill="#0a9fe3"/>
<text class="lbl" transform="translate(640.5,391.5) rotate(7.5)" text-anchor="middle" font-size="52" fill="#fff" letter-spacing="2">205</text>
<text class="lbl" transform="translate(599.7,682.8) rotate(7.5)" text-anchor="middle" font-size="52" fill="#fff" letter-spacing="2">205</text>

<!-- dimension lines -->
<g stroke="#1d1d1b" stroke-width="2.5" fill="none">
<line x1="80.5" y1="195.2" x2="245" y2="195.2"/>
<line x1="80.5" y1="748.8" x2="245" y2="748.8"/>
<line x1="80.5" y1="1052.4" x2="279" y2="1052.4"/>
<line x1="995" y1="748.8" x2="1138.5" y2="748.8"/>
<line x1="995" y1="1045.3" x2="1138.5" y2="1045.3"/>
<line x1="95.7" y1="195" x2="95.7" y2="446.7"/>
<line x1="95.7" y1="510" x2="95.7" y2="861.6"/>
<line x1="95.7" y1="923" x2="95.7" y2="1052"/>
<line x1="1123.5" y1="748.8" x2="1123.5" y2="863.8"/>
<line x1="1123.5" y1="925.7" x2="1123.5" y2="1045.3"/>
</g>
<g fill="#1d1d1b">
<circle cx="95.7" cy="195.2" r="8.2"/>
<circle cx="95.7" cy="748.8" r="8.2"/>
<circle cx="95.7" cy="1052.4" r="8.2"/>
<circle cx="1123.5" cy="748.8" r="8.2"/>
<circle cx="1123.5" cy="1045.4" r="8.2"/>
</g>
<text x="49.5" y="495.3" font-size="51" fill="#1d1d1b" textLength="93" lengthAdjust="spacingAndGlyphs">410</text>
<text x="51.5" y="909.8" font-size="51" fill="#1d1d1b" textLength="89" lengthAdjust="spacingAndGlyphs">225</text>
<text x="1079.5" y="912.5" font-size="51" fill="#1d1d1b" textLength="90" lengthAdjust="spacingAndGlyphs">220</text>

</svg>
</body></html>
